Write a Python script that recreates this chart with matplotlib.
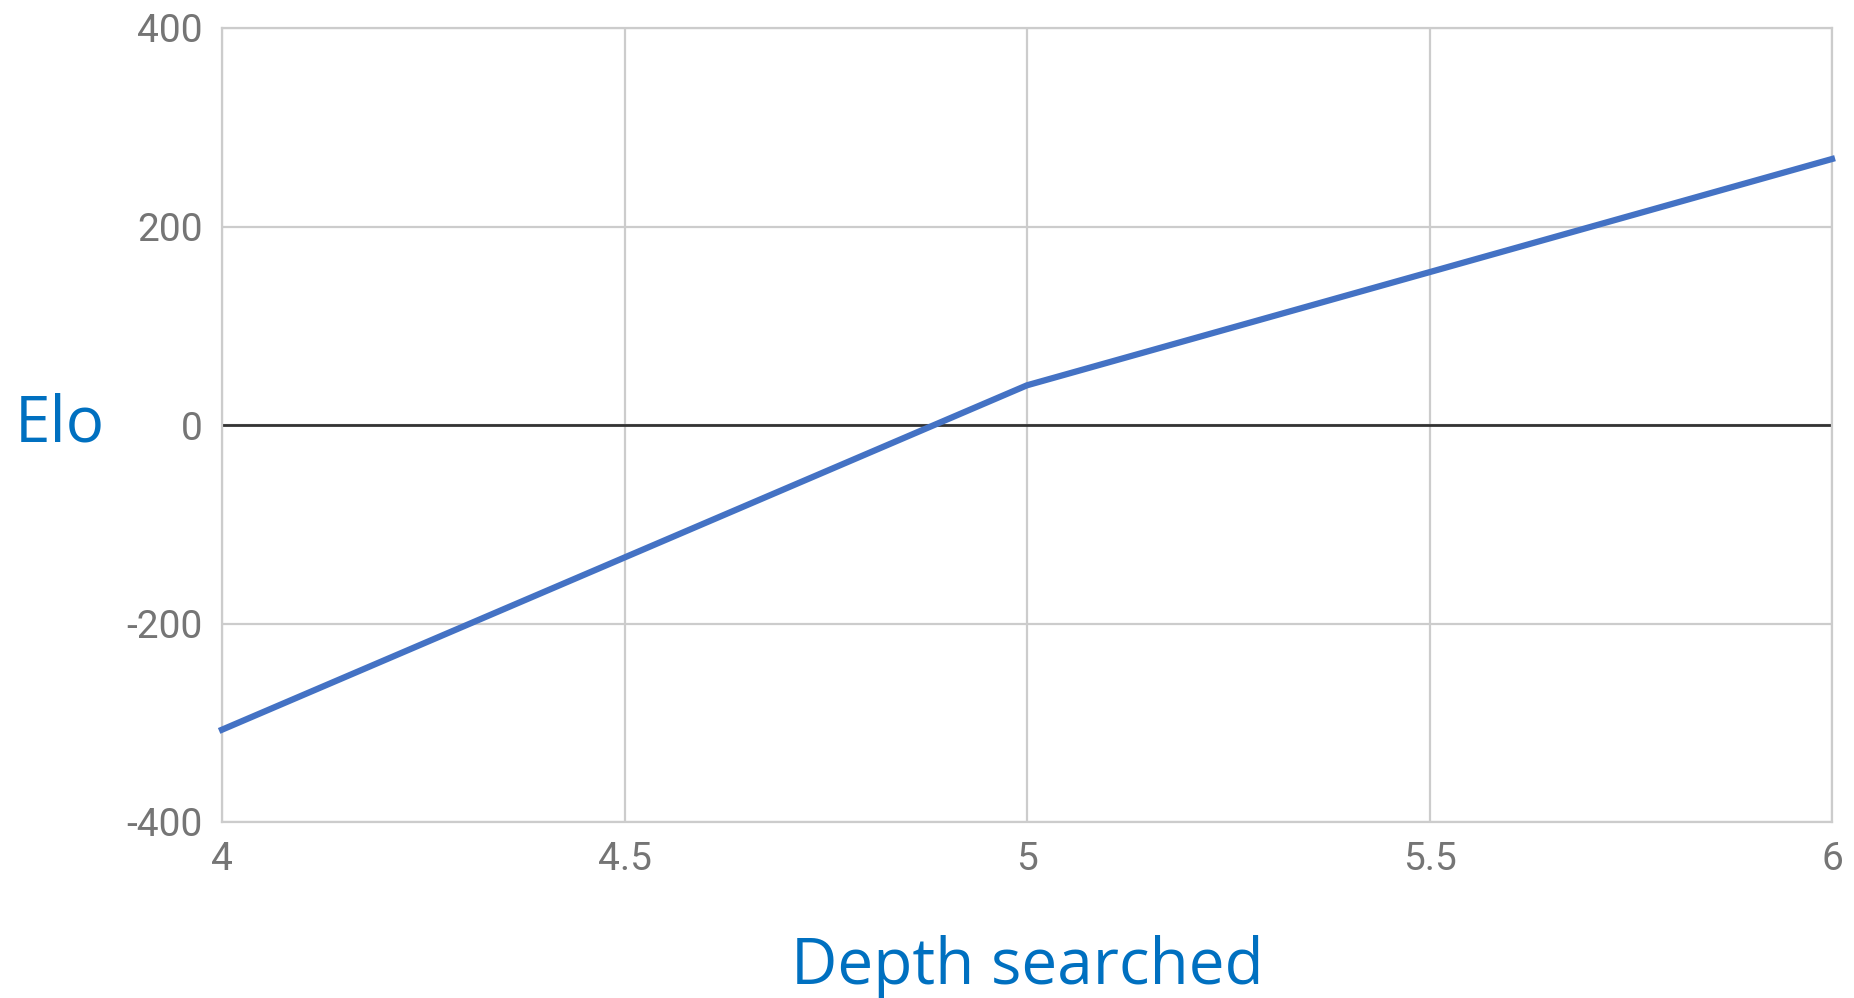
import matplotlib
matplotlib.use("Agg")
import matplotlib.pyplot as plt

depth = [4, 5, 6]
elo = [-307, 40, 268]

x_ticks = [4, 4.5, 5, 5.5, 6]
x_tick_labels = ["4", "4.5", "5", "5.5", "6"]
y_ticks = [-400, -200, 0, 200, 400]
y_tick_labels = ["-400", "-200", "0", "200", "400"]

fig = plt.figure(figsize=(18.54, 9.98), dpi=100)
ax = fig.add_axes([222 / 1854, 1 - 822 / 998, (1832 - 222) / 1854, (822 - 28) / 998])

ax.set_xlim(4, 6)
ax.set_ylim(-400, 400)
ax.set_xticks(x_ticks)
ax.set_xticklabels(x_tick_labels)
ax.set_yticks(y_ticks)
ax.set_yticklabels(y_tick_labels)

ax.grid(True, color="#cccccc", linewidth=1.6)
ax.set_axisbelow(True)
for side in ["left", "right", "top", "bottom"]:
    ax.spines[side].set_color("#cccccc")
    ax.spines[side].set_linewidth(1.6)

ax.tick_params(length=0, labelsize=28, labelcolor="#757575")
ax.tick_params(axis="x", pad=14)
ax.tick_params(axis="y", pad=14)
for lbl in ax.get_xticklabels() + ax.get_yticklabels():
    lbl.set_family("Roboto")

ax.axhline(0, color="#333333", linewidth=2, zorder=2)
ax.plot(depth, elo, color="#4472c4", linewidth=4.5, zorder=3, clip_on=False)

fig.text(60 / 1854, 1 - 425 / 998, "Elo", color="#0070c0", fontsize=46,
         family="Open Sans", ha="center", va="center")
fig.text(1027 / 1854, 1 - 984 / 998, "Depth searched", color="#0070c0", fontsize=46,
         family="Open Sans", ha="center", va="baseline")

fig.savefig("out.png", dpi=100)
